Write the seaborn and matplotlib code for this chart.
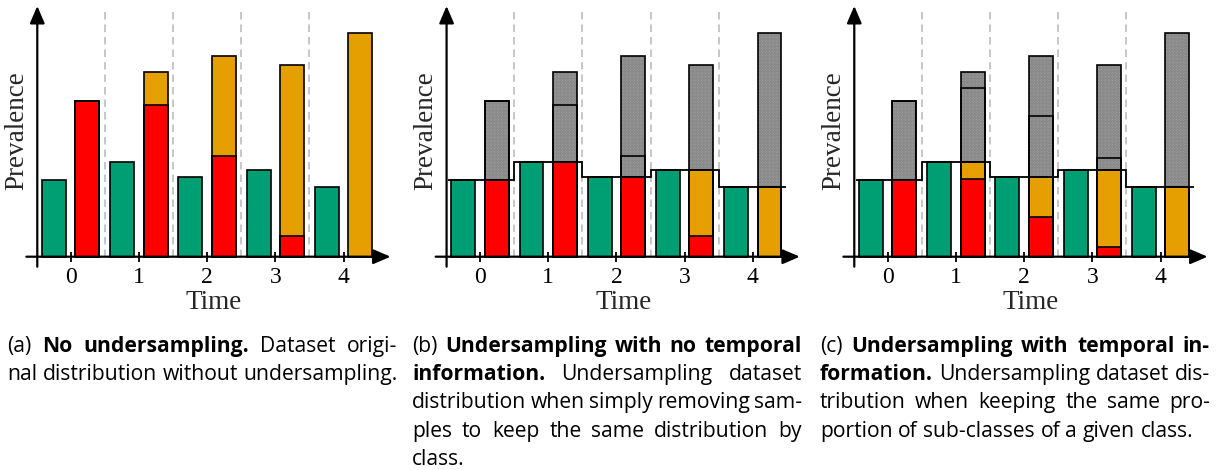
import numpy as np
import pandas as pd
import matplotlib
matplotlib.use("Agg")
import matplotlib.pyplot as plt
import seaborn as sns

# ---------------- data ----------------
times = [0, 1, 2, 3, 4]
tick_labels = ["0", "1", "2", "3", "4"]
majority = [7.7, 9.5, 8.0, 8.7, 7.0]

# (a) original distribution: older sub-class (red) + newer sub-class (orange)
red_a = [15.6, 15.2, 10.1, 2.1, 0.0]
orange_a = [0.0, 3.3, 10.0, 17.1, 22.4]

# (b) undersampling without temporal information
red_b = [7.7, 9.5, 8.0, 2.1, 0.0]
orange_b = [0.0, 0.0, 0.0, 6.6, 7.0]
removed_red_b = [7.9, 5.7, 2.1, 0.0, 0.0]
removed_orange_b = [0.0, 3.3, 10.0, 10.5, 15.4]

# (c) undersampling with temporal information
red_c = [7.7, 7.8, 4.0, 0.95, 0.0]
orange_c = [0.0, 1.7, 4.0, 7.75, 7.0]
removed_red_c = [7.9, 7.4, 6.1, 1.15, 0.0]
removed_orange_c = [0.0, 1.6, 6.0, 9.35, 15.4]

GREEN = "#009E73"
RED = "#FF0000"
ORANGE = "#E69F00"
GREY = "#a6a6a6"
HATCH = "#8a8a8a"

sns.set_style("white")
plt.rcParams["font.family"] = ["Liberation Serif", "DejaVu Serif"]
plt.rcParams["hatch.linewidth"] = 0.8

fig = plt.figure(figsize=(12.21, 4.70), dpi=100)

W, H = 1221.0, 470.0
UNIT = 68.2           # px per time unit
XMIN, XMAX = -0.7, 4.75
YMIN, YMAX = -1.5, 25.5
BASE_PX = 256.7       # baseline y in pixels (from top)
zero_px = [70.7, 480.0, 887.7]

EDGE_LW = 1.2


def bar_layer(ax, cls, heights, color, fill=True, **kw):
    df = pd.DataFrame({"time": times, "value": heights})
    df = df[df["value"] > 0].copy()
    df["cls"] = cls
    sns.barplot(data=df, x="time", y="value", hue="cls", hue_order=["maj", "min"],
                order=times, palette={"maj": color, "min": color}, width=0.98,
                gap=0.286, dodge=True, errorbar=None, legend=False, fill=fill,
                saturation=1, ax=ax, **kw)


def draw_panel(ax, segments, step=False):
    # fills
    bar_layer(ax, "maj", majority, GREEN, linewidth=0, zorder=2)
    cum = np.cumsum([s[0] for s in segments], axis=0)
    for k in reversed(range(len(segments))):
        vals, color, hatched = segments[k]
        kw = dict(linewidth=0, zorder=2)
        if hatched:
            kw.update(hatch="xxxxxxxxxxxx", edgecolor=HATCH)
        bar_layer(ax, "min", cum[k], color, **kw)
    # outlines
    bar_layer(ax, "maj", majority, "black", fill=False, linewidth=EDGE_LW,
              edgecolor="black", zorder=3)
    for k in range(len(segments)):
        bar_layer(ax, "min", cum[k], "black", fill=False, linewidth=EDGE_LW,
                  edgecolor="black", zorder=3)
    if step:
        ax.stairs(majority, [-0.47, 0.5, 1.5, 2.5, 3.5, 4.49], baseline=None,
                  color="black", linewidth=1.3, zorder=4)

    # separators
    ax.vlines([0.5, 1.5, 2.5, 3.5], 0, 24.7, colors="#bdbdbd",
              linestyles=(0, (4.5, 3)), linewidth=1.2, zorder=0.5)

    # axes with arrows
    arrow = dict(arrowstyle="-|>,head_length=0.42,head_width=0.18", color="black",
                 lw=1.6, mutation_scale=25, shrinkA=0, shrinkB=0)
    ax.annotate("", xy=(4.69, 0), xytext=(-0.65, 0), arrowprops=arrow,
                annotation_clip=False, zorder=5)
    ax.annotate("", xy=(-0.49, 25.07), xytext=(-0.49, -1.0), arrowprops=arrow,
                annotation_clip=False, zorder=5)

    ax.set_xlim(XMIN, XMAX)
    ax.set_ylim(YMIN, YMAX)
    for s in ax.spines.values():
        s.set_visible(False)
    ax.spines["bottom"].set_position(("data", 0))
    ax.set_yticks([])
    ax.set_xticks(range(len(tick_labels)))
    ax.set_xticklabels(tick_labels)
    ax.tick_params(axis="x", direction="inout", length=7, width=1.3, pad=4.0,
                   labelsize=17, bottom=True, colors="black")
    ax.set_xlabel("")
    ax.set_ylabel("")
    ax.text(-0.79, 12.6, "Prevalence", rotation=90, ha="center", va="center",
            fontsize=19.5, clip_on=False)
    ax.text(2.1, -5.26, "Time", ha="center", va="baseline", fontsize=19.5,
            clip_on=False)


panels = [
    [(red_a, RED, False), (orange_a, ORANGE, False)],
    [(red_b, RED, False), (orange_b, ORANGE, False),
     (removed_red_b, GREY, True), (removed_orange_b, GREY, True)],
    [(red_c, RED, False), (orange_c, ORANGE, False),
     (removed_red_c, GREY, True), (removed_orange_c, GREY, True)],
]

for i, segs in enumerate(panels):
    left_px = zero_px[i] + XMIN * UNIT
    width_px = (XMAX - XMIN) * UNIT
    bottom_px = BASE_PX - YMIN * 10
    height_px = (YMAX - YMIN) * 10
    ax = fig.add_axes([left_px / W, (H - bottom_px) / H, width_px / W, height_px / H])
    ax.patch.set_alpha(0)
    draw_panel(ax, segs, step=(i > 0))

# ---------------- captions (justified) ----------------
CAP_FONT = ["Open Sans", "DejaVu Sans"]
CAP_SIZE = 15.2
captions = [
    (7, [[("(a)", False), ("No", True), ("undersampling.", True), ("Dataset", False), ("origi-", False)],
         [("nal", False), ("distribution", False), ("without", False), ("undersampling.", False)]]),
    (412, [[("(b)", False), ("Undersampling", True), ("with", True), ("no", True), ("temporal", True)],
           [("information.", True), ("Undersampling", False), ("dataset", False)],
           [("distribution", False), ("when", False), ("simply", False), ("removing", False), ("sam-", False)],
           [("ples", False), ("to", False), ("keep", False), ("the", False), ("same", False), ("distribution", False), ("by", False)],
           [("class.", False)]]),
    (820, [[("(c)", False), ("Undersampling", True), ("with", True), ("temporal", True), ("in-", True)],
           [("formation.", True), ("Undersampling", False), ("dataset", False), ("dis-", False)],
           [("tribution", False), ("when", False), ("keeping", False), ("the", False), ("same", False), ("pro-", False)],
           [("portion", False), ("of", False), ("sub-classes", False), ("of", False), ("a", False), ("given", False), ("class.", False)]]),
]
COL_W = 390
baselines = [351.7, 380.0, 408.3, 436.7, 465.0]

renderer = fig.canvas.get_renderer()
probe1 = fig.text(0, 0, "a a", family=CAP_FONT, fontsize=CAP_SIZE)
probe2 = fig.text(0, 0, "aa", family=CAP_FONT, fontsize=CAP_SIZE)
space_w = (probe1.get_window_extent(renderer).width
           - probe2.get_window_extent(renderer).width)
probe1.remove()
probe2.remove()

for x0, lines in captions:
    for li, words in enumerate(lines):
        y = 1 - baselines[li] / H
        arts = []
        for w, bold in words:
            t = fig.text(0, y, w, family=CAP_FONT, fontsize=CAP_SIZE,
                         fontweight="bold" if bold else "normal", va="baseline",
                         ha="left", color="black")
            arts.append(t)
        widths = [a.get_window_extent(renderer).width for a in arts]
        last = li == len(lines) - 1
        if last or len(arts) == 1:
            gap = space_w
        else:
            gap = (COL_W - sum(widths)) / (len(arts) - 1)
        x = x0
        for a, wdt in zip(arts, widths):
            a.set_x(x / W)
            x += wdt + gap

fig.savefig("out.png", dpi=100)
